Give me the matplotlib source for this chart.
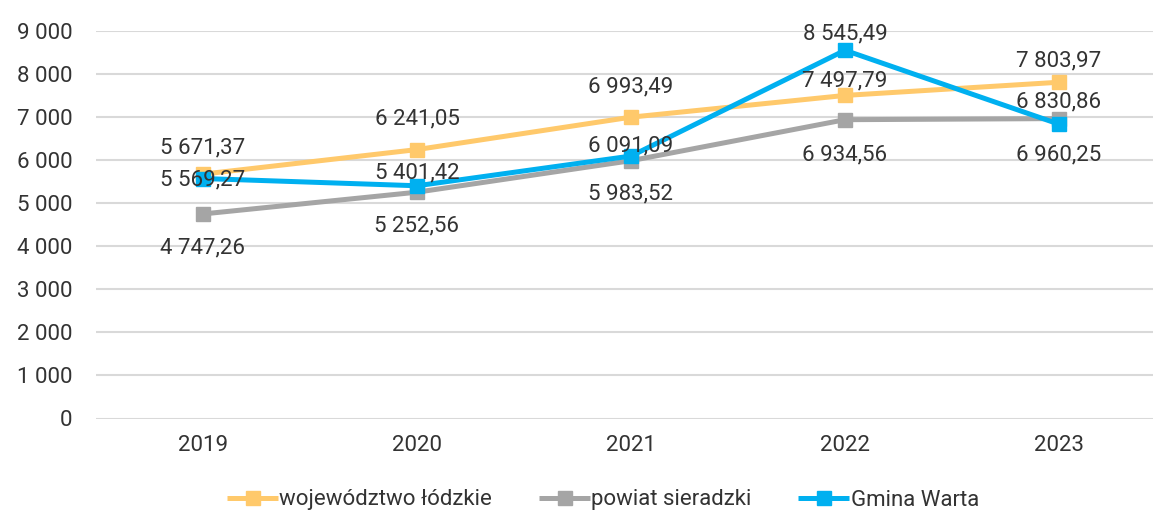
import matplotlib
matplotlib.use("Agg")
import matplotlib.pyplot as plt
from matplotlib.ticker import FuncFormatter

years = ["2019", "2020", "2021", "2022", "2023"]
wojewodztwo = [5671.37, 6241.05, 6993.49, 7497.79, 7803.97]
powiat = [4747.26, 5252.56, 5983.52, 6934.56, 6960.25]
gmina = [5569.27, 5401.42, 6091.09, 8545.49, 6830.86]
series_names = ["województwo łódzkie", "powiat sieradzki", "Gmina Warta"]
colors = ["#FFC96B", "#A5A5A5", "#00B0F0"]

# label vertical offsets in pixels (negative = above)
label_offsets = [
    [-26, -31, -30, -14, -21],
    [34, 34, 33, 35, 36],
    [1, -13, -10, -16, -22],
]

FS = 16
TXT = "#333333"
plt.rcParams["font.family"] = ["Roboto", "DejaVu Sans"]
W, H = 1153, 513
fig = plt.figure(figsize=(W / 100, H / 100), dpi=100)
left, right = 96 / W, 1.0
bottom, top = 1 - 418.5 / H, 1 - 30.7 / H
ax = fig.add_axes([left, bottom, right - left, top - bottom])

x = list(range(len(years)))
data = [wojewodztwo, powiat, gmina]
for vals, name, col in zip(data, series_names, colors):
    ax.plot(x, vals, color=col, lw=3.6, marker="s", markersize=10,
            label=name, solid_capstyle="butt")

def fmt(v):
    s = f"{v:,.2f}"
    return s.replace(",", " ").replace(".", ",")

for vals, offs in zip(data, label_offsets):
    for xi, v, o in zip(x, vals, offs):
        ax.annotate(fmt(v), (xi, v), xytext=(0, -o * 0.72), textcoords="offset points",
                    ha="center", va="center", fontsize=FS, color=TXT)

ax.set_ylim(0, 9000)
ax.set_xlim(-0.5, 4.5 - 13 / 214)
ax.set_yticks(range(0, 9001, 1000))
ax.yaxis.set_major_formatter(FuncFormatter(lambda v, p: f"{int(v):,}".replace(",", " ")))
ax.set_xticks(x)
ax.set_xticklabels(years)
ax.tick_params(axis="both", length=0, labelsize=FS, colors=TXT)
ax.tick_params(axis="y", pad=17)
ax.tick_params(axis="x", pad=12)
ax.grid(axis="y", color="#D9D9D9", lw=1.5)
ax.set_axisbelow(True)
for sp in ax.spines.values():
    sp.set_visible(False)

leg = fig.legend(loc="center", bbox_to_anchor=(0.523, 1 - 500 / H), ncol=3, frameon=False,
                 handlelength=2.3, columnspacing=2.1, handletextpad=0.05,
                 prop={"size": FS})
for t in leg.get_texts():
    t.set_color(TXT)

fig.savefig("out.png", dpi=100)
